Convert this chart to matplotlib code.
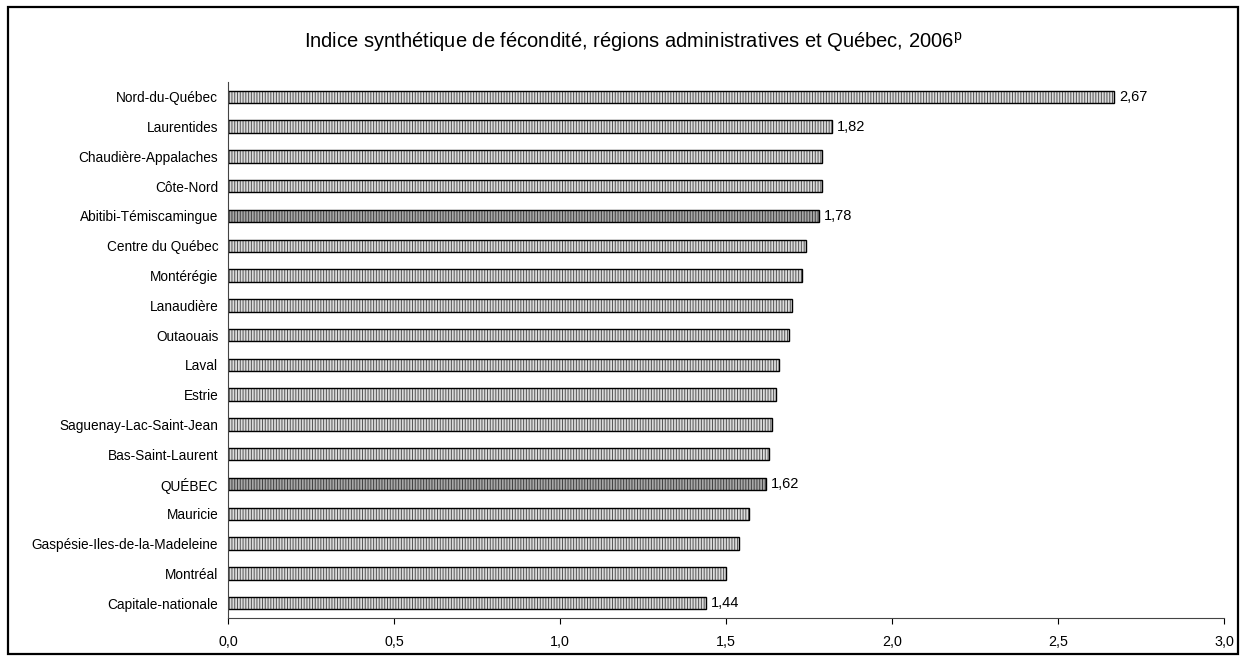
# Indice synthétique de fécondité, régions administratives et Québec, 2006p
import matplotlib.pyplot as plt
from matplotlib.patches import Rectangle

plt.rcParams['font.family'] = ['Liberation Sans', 'DejaVu Sans']
plt.rcParams['mathtext.fontset'] = 'custom'
plt.rcParams['mathtext.rm'] = 'Liberation Sans'
plt.rcParams['hatch.linewidth'] = 0.7

regions = ['Nord-du-Québec', 'Laurentides', 'Chaudière-Appalaches', 'Côte-Nord',
           'Abitibi-Témiscamingue', 'Centre du Québec', 'Montérégie', 'Lanaudière',
           'Outaouais', 'Laval', 'Estrie', 'Saguenay-Lac-Saint-Jean',
           'Bas-Saint-Laurent', 'QUÉBEC', 'Mauricie', 'Gaspésie-Iles-de-la-Madeleine',
           'Montréal', 'Capitale-nationale']
isf = [2.67, 1.82, 1.79, 1.79, 1.78, 1.74, 1.73, 1.70, 1.69, 1.66, 1.65, 1.64,
       1.63, 1.62, 1.57, 1.54, 1.50, 1.44]
dark = ['Abitibi-Témiscamingue', 'QUÉBEC']
labelled = ['Nord-du-Québec', 'Laurentides', 'Abitibi-Témiscamingue', 'QUÉBEC',
            'Capitale-nationale']

fig = plt.figure(figsize=(12.47, 6.6), dpi=100)
fig.patches.append(Rectangle((8/1247, 6/660), 1230/1247, 647/660,
                             transform=fig.transFigure, fill=False,
                             edgecolor='black', linewidth=1.6))

ax = fig.add_axes([228/1247, 42/660, 996/1247, 536/660])
pos = list(range(len(regions)))
for i, (r, v) in enumerate(zip(regions, isf)):
    if r in dark:
        fc, hc = '#a8a8a8', '#404040'
    else:
        fc, hc = '#dcdcdc', '#555555'
    ax.barh(i, v, height=0.42, color=fc, edgecolor=hc, hatch='||||||', linewidth=0)
    ax.barh(i, v, height=0.42, fill=False, edgecolor='black', linewidth=1)
    if r in labelled:
        ax.text(v + 0.015, i, ('%.2f' % v).replace('.', ','), va='center',
                ha='left', fontsize=10.5)

ax.set_yticks(pos)
ax.set_yticklabels(regions, fontsize=9.8)
ax.set_ylim(len(regions) - 0.5, -0.5)
ax.set_xlim(0, 3.0)
ticks = [0, 0.5, 1.0, 1.5, 2.0, 2.5, 3.0]
ax.set_xticks(ticks)
ax.set_xticklabels([('%.1f' % t).replace('.', ',') for t in ticks], fontsize=10.3)
ax.tick_params(axis='y', length=0, pad=7)
ax.tick_params(axis='x', length=4, direction='out', pad=8)
ax.spines['top'].set_visible(False)
ax.spines['right'].set_visible(False)
ax.spines['left'].set_color('#444444')
ax.spines['bottom'].set_color('#444444')

fig.text(633/1247, 1 - 42/660,
         'Indice synthétique de fécondité, régions administratives et Québec, 2006$^{\\mathrm{p}}$',
         ha='center', va='center', fontsize=14.5)

fig.savefig('out.png', dpi=100)
